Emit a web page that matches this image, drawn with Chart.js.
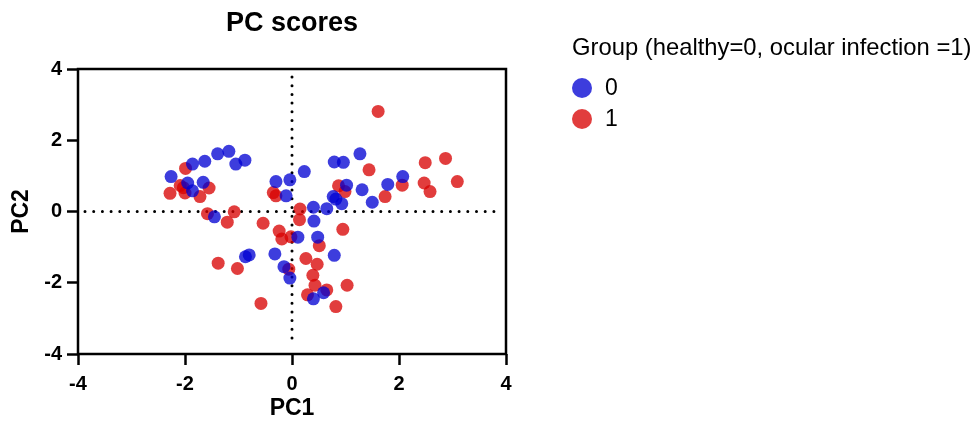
<!DOCTYPE html>
<html>
<head>
<meta charset="utf-8">
<script src="https://cdn.jsdelivr.net/npm/chart.js@4.4.1/dist/chart.umd.min.js"></script>
<style>
  html, body { margin: 0; padding: 0; background: #fff; }
  .wrap { position: relative; width: 975px; height: 427px; }
  #pcCanvas { position: absolute; left: 0; top: 0; }
  .legend { position: absolute; left: 572px; top: 32px; font-family: 'Liberation Sans', Arial, sans-serif; color: #000; }
  .legend-title { font-size: 23.8px; line-height: 30px; white-space: nowrap; }
  .legend-item { display: flex; align-items: center; height: 31px; font-size: 23px; }
  .legend-dot { width: 20px; height: 20px; border-radius: 50%; margin-left: 0; margin-right: 13px; }
</style>
</head>
<body>
<div class="wrap">
  <canvas id="pcCanvas" width="975" height="427"></canvas>
  <div class="legend">
    <div class="legend-title">Group (healthy=0, ocular infection =1)</div>
    <div id="legendItems" style="margin-top:10px"></div>
  </div>
</div>
<script>
(function () {
  'use strict';

  // group 0 (healthy)
  const pc1Healthy = [-2.26, -1.86, -1.63, -1.39, -1.18, -1.05, -0.88, -1.95, -1.66, -1.86, -1.45,
    -0.30, -0.04, -0.11, 0.23, 0.40, 0.65, 0.41, 0.48, 0.11, 0.79, 0.96, 1.27, 1.02, 1.31, 1.50,
    1.79, 2.07, 0.77, 0.82, 0.93, -0.87, -0.80, -0.32, -0.15, -0.04, 0.79, 0.40, 0.59];
  const pc2Healthy = [0.98, 1.33, 1.41, 1.62, 1.69, 1.33, 1.44, 0.80, 0.82, 0.58, -0.15,
    0.84, 0.89, 0.44, 1.12, 0.12, 0.08, -0.27, -0.72, -0.72, 1.39, 1.38, 1.62, 0.74, 0.61, 0.26,
    0.76, 0.98, 0.42, 0.35, 0.22, -1.27, -1.22, -1.19, -1.55, -1.87, -1.23, -2.45, -2.28];

  // group 1 (ocular infection)
  const pc1Infected = [-2.28, -1.99, -2.09, -2.03, -2.00, -1.72, -1.55, -1.58, -1.21, -1.08, -1.38,
    -1.02, -0.54, -0.58, -0.35, -0.30, -0.24, -0.19, -0.02, 0.15, 0.14, -0.06, 0.26, 0.47, 0.39,
    0.43, 0.65, 0.29, 0.82, 1.03, 0.51, 0.95, 0.87, 0.99, 1.44, 1.74, 2.06, 1.61, 2.49, 2.47,
    2.58, 2.87, 3.09];
  const pc2Infected = [0.51, 1.21, 0.73, 0.67, 0.52, 0.42, 0.66, -0.06, -0.30, -0.01, -1.45,
    -1.60, -0.33, -2.58, 0.53, 0.44, -0.55, -0.77, -0.71, 0.07, -0.23, -1.62, -1.32, -1.48, -1.79,
    -2.07, -2.20, -2.34, -2.67, -2.07, -0.96, -0.50, 0.72, 0.56, 1.17, 0.42, 0.74, 2.81, 1.37, 0.80,
    0.56, 1.49, 0.84];

  const groupLabels = ['0', '1'];
  const axisTicks = [-4, -2, 0, 2, 4];

  const blue = 'rgba(0,0,210,0.76)';
  const red = 'rgba(215,0,0,0.76)';
  const fontFamily = "'Liberation Sans', Arial, sans-serif";

  const toPoints = (xs, ys) => xs.map((x, i) => ({ x: x, y: ys[i] }));

  // frame + dotted zero lines
  const framePlugin = {
    id: 'frame',
    beforeDatasetsDraw(chart) {
      const { ctx, chartArea: a, scales } = chart;
      const x0 = scales.x.getPixelForValue(0);
      const y0 = scales.y.getPixelForValue(0);
      ctx.save();
      ctx.strokeStyle = '#000';
      ctx.lineWidth = 3;
      ctx.lineCap = 'round';
      ctx.setLineDash([0, 8.7]);
      ctx.beginPath();
      ctx.moveTo(a.left + 7, y0);
      ctx.lineTo(a.right - 6, y0);
      ctx.moveTo(x0, a.top + 8);
      ctx.lineTo(x0, a.bottom - 10);
      ctx.stroke();
      ctx.restore();
    },
    afterDraw(chart) {
      const { ctx, chartArea: a } = chart;
      ctx.save();
      ctx.strokeStyle = '#000';
      ctx.lineWidth = 2.5;
      ctx.strokeRect(a.left, a.top, a.right - a.left, a.bottom - a.top);
      ctx.restore();
    }
  };

  new Chart(document.getElementById('pcCanvas'), {
    type: 'scatter',
    data: {
      datasets: [
        { label: groupLabels[0], data: toPoints(pc1Healthy, pc2Healthy), backgroundColor: blue, borderWidth: 0, pointRadius: 6.5 },
        { label: groupLabels[1], data: toPoints(pc1Infected, pc2Infected), backgroundColor: red, borderWidth: 0, pointRadius: 6.5 }
      ]
    },
    options: {
      responsive: false,
      animation: false,
      devicePixelRatio: 1,
      layout: { padding: { left: 0, right: 469, top: 0, bottom: 0 } },
      plugins: {
        legend: { display: false },
        tooltip: { enabled: false },
        title: {
          display: true,
          text: 'PC scores',
          fullSize: false,
          color: '#000',
          font: { family: fontFamily, size: 27, weight: 'bold' },
          padding: { top: 7, bottom: 29.6 }
        }
      },
      scales: {
        x: {
          type: 'linear',
          min: -4, max: 4,
          afterBuildTicks: s => { s.ticks = axisTicks.map(v => ({ value: v })); },
          afterFit: s => { s.height = 73; },
          border: { display: false },
          grid: { drawOnChartArea: false, tickLength: 11, tickWidth: 2.5, tickColor: '#000' },
          ticks: { color: '#000', padding: 7, font: { family: fontFamily, size: 20, weight: 'bold' } },
          title: { display: true, text: 'PC1', color: '#000', padding: { top: 0, bottom: 5 }, font: { family: fontFamily, size: 23, weight: 'bold' } }
        },
        y: {
          type: 'linear',
          min: -4, max: 4,
          afterBuildTicks: s => { s.ticks = axisTicks.map(v => ({ value: v })); },
          afterFit: s => { s.width = 78; },
          border: { display: false },
          grid: { drawOnChartArea: false, tickLength: 11, tickWidth: 2.5, tickColor: '#000' },
          ticks: { color: '#000', padding: 5, font: { family: fontFamily, size: 20, weight: 'bold' } },
          title: { display: true, text: 'PC2', color: '#000', padding: { top: 8, bottom: 0 }, font: { family: fontFamily, size: 23, weight: 'bold' } }
        }
      }
    },
    plugins: [framePlugin]
  });

  // legend
  const legendEl = document.getElementById('legendItems');
  [blue, red].forEach((c, i) => {
    const row = document.createElement('div');
    row.className = 'legend-item';
    row.innerHTML = '<span class="legend-dot" style="background:' + c + '"></span><span>' + groupLabels[i] + '</span>';
    legendEl.appendChild(row);
  });
})();
</script>
</body>
</html>
